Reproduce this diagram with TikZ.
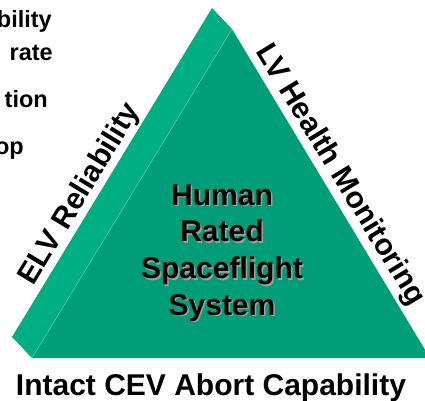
\documentclass[tikz,border=0pt]{standalone}
\usepackage{fontspec}
\setmainfont{Liberation Sans}
\usetikzlibrary{positioning,calc}
\definecolor{faceGreen}{RGB}{0,158,120}
\definecolor{bevelGreen}{RGB}{0,174,132}

\begin{document}
\begin{tikzpicture}[
    x=1bp, y=-1bp,
    faceFill/.style={fill=faceGreen, draw=none},
    bevelFill/.style={fill=bevelGreen, draw=none},
    edgeLight/.style={draw=bevelGreen!70!white, line width=0.6bp},
    sideLabel/.style={font=\fontsize{30bp}{36bp}\selectfont\bfseries, anchor=base, inner sep=0pt},
    coreText/.style={font=\fontsize{30bp}{36.7bp}\selectfont\bfseries, align=center, inner sep=0pt},
    listText/.style={font=\fontsize{23.5bp}{28bp}\selectfont\bfseries, anchor=base east, inner sep=0pt}
]
\useasboundingbox (0,0) rectangle (425,401);
\clip (0,0) rectangle (425,401);

% ================= TRIANGLE CORNERS =================
\coordinate (backTop) at (212,8);
\coordinate (backLeft) at (12,337);
\coordinate (frontTop) at (232,29);
\coordinate (frontLeft) at (32,358);
\coordinate (frontRight) at (430,358);

% ================= BEVEL AND FACE =================
\fill[bevelFill] (backLeft) -- (backTop) -- (frontTop) -- (frontLeft) -- cycle;
\fill[faceFill] (frontTop) -- (frontLeft) -- (frontRight) -- cycle;
\draw[edgeLight] (frontLeft) -- (frontTop);

% ================= CENTRE TEXT =================
\node[coreText, text=gray!75] (coreShadow) at (223.5,254.5) {Human\\Rated\\Spaceflight\\System};
\node[coreText] (core) at (222,253) {Human\\Rated\\Spaceflight\\System};

% ================= SIDE LABELS =================
\node[sideLabel, rotate=58.7] (elvLabel) at (87.1,198.2) {ELV Reliability};
\node[sideLabel, rotate=-58.7] (healthLabel) at (333.3,179.2) {LV Health Monitoring};
\node[sideLabel] (abortLabel) at (211,395) {Intact CEV Abort Capability};

% ================= CUT-OFF LIST =================
\node[listText] (listA) at (52,27) {bility};
\node[listText] (listB) at (53,60) {rate};
\node[listText] (listC) at (48,107) {tion};
\node[listText] (listD) at (24,154) {op};

\end{tikzpicture}
\end{document}
